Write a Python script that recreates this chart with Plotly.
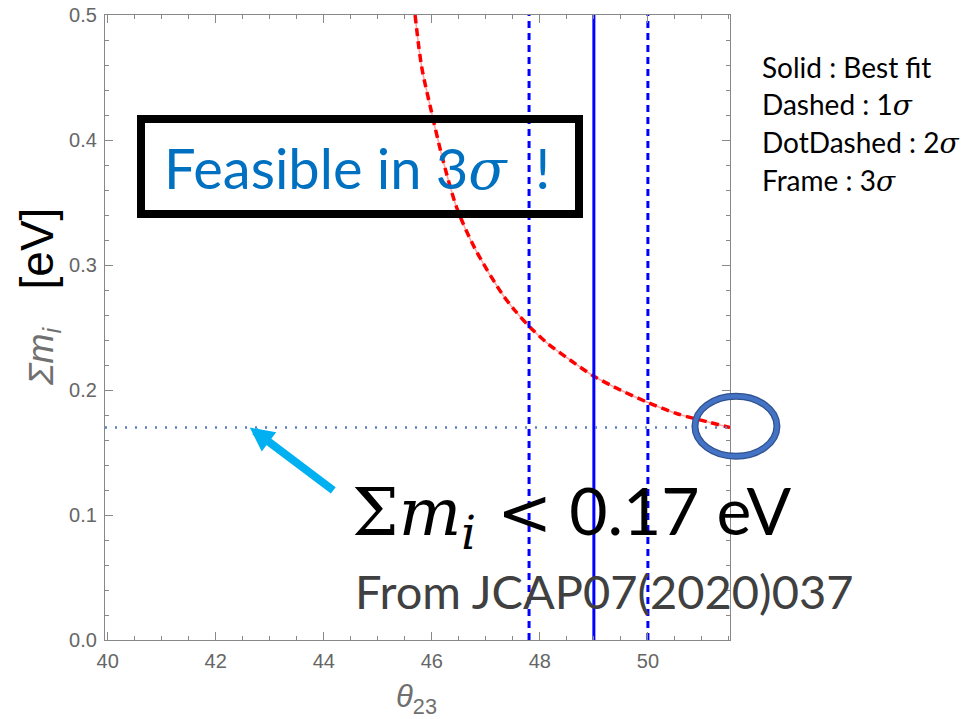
import plotly.graph_objects as go

# ---------------- data ----------------
theta23 = [45.69, 45.81, 45.97, 46.20, 46.46, 46.80, 47.30, 47.55, 47.80, 48.15, 48.56, 49.00, 49.49, 50.00, 50.54, 51.15, 51.52]
sum_mass = [0.500, 0.459, 0.427, 0.385, 0.346, 0.313, 0.277, 0.263, 0.251, 0.237, 0.224, 0.211, 0.200, 0.190, 0.181, 0.174, 0.170]
best_fit = 49.0
one_sigma = [47.8, 50.0]
mass_bound = 0.17
x_range = [39.95, 51.52]
y_range = [0.0, 0.5]
x_ticks = [40, 42, 44, 46, 48, 50]
y_ticks = [0.0, 0.1, 0.2, 0.3, 0.4, 0.5]
ring_center = (51.63, 0.171)
arrow_head = (42.63, 0.170)
legend_lines = ["Solid : Best fit", "Dashed : 1σ", "DotDashed : 2σ", "Frame : 3σ"]
feasible_text = "Feasible in 3σ&nbsp; !"
bound_text = "0.17 eV"
source_text = "From JCAP07(2020)037"

# ---------------- layout geometry ----------------
W, H = 969, 719
L, R, T, B = 105, 239, 15, 79
PW = W - L - R
PH = H - T - B

SERIF = "font-family:'DejaVu Serif'"


def P(px, py):
    """pixel position on page -> paper coordinates"""
    return (px - L) / PW, (H - B - py) / PH


def sig(s):
    return s.replace("σ", '<i><span style="%s">σ</span></i>' % SERIF)


fig = go.Figure()

# red curve: thin pale line with dashed red over it
fig.add_trace(go.Scatter(x=theta23, y=sum_mass, mode="lines", hoverinfo="skip",
                         line=dict(color="rgba(255,90,90,0.55)", width=1.5, shape="spline", smoothing=0.8)))
fig.add_trace(go.Scatter(x=theta23, y=sum_mass, mode="lines", hoverinfo="skip",
                         line=dict(color="#ff0000", width=3.5, dash="8px,5px", shape="spline", smoothing=0.8)))

# 1 sigma dashed lines and best fit
for v in one_sigma:
    fig.add_trace(go.Scatter(x=[v, v], y=y_range, mode="lines", hoverinfo="skip",
                             line=dict(color="#0000ff", width=3, dash="7px,5px")))
fig.add_trace(go.Scatter(x=[best_fit, best_fit], y=y_range, mode="lines", hoverinfo="skip",
                         line=dict(color="#0000ff", width=3)))

# cosmological bound, dotted
fig.add_trace(go.Scatter(x=x_range, y=[mass_bound, mass_bound], mode="lines", hoverinfo="skip",
                         line=dict(color="#5a7fc4", width=2.5, dash="2px,8px")))

axis_common = dict(showgrid=False, zeroline=False, showline=True, linecolor="#888888", linewidth=1.2,
                   mirror="allticks", ticks="inside", ticklen=8, tickwidth=1, tickcolor="#888888",
                   automargin=False, ticklabelstandoff=3,
                   tickfont=dict(family="Liberation Sans", size=20, color="#666666"))

fig.update_xaxes(range=x_range, tickvals=x_ticks,
                 minor=dict(dtick=0.5, tick0=40, ticks="inside", ticklen=4, tickcolor="#888888"),
                 **axis_common)
fig.update_yaxes(range=y_range, tickvals=y_ticks, tickformat=".1f",
                 minor=dict(dtick=0.02, tick0=0, ticks="inside", ticklen=4, tickcolor="#888888"),
                 **axis_common)

xspan = x_range[1] - x_range[0]
yspan = y_range[1] - y_range[0]

shapes = []
# highlighting ring around curve end
for col, wd in (("#2F528F", 7), ("#4472C4", 4.5)):
    shapes.append(dict(type="circle", xref="x domain", yref="y domain",
                       xsizemode="pixel", ysizemode="pixel",
                       xanchor=(ring_center[0] - x_range[0]) / xspan,
                       yanchor=(ring_center[1] - y_range[0]) / yspan,
                       x0=-41, x1=41, y0=-30, y1=30,
                       line=dict(color=col, width=wd)))
# black frame round "Feasible"
bx0, by0 = P(141, 214)
bx1, by1 = P(579, 119)
shapes.append(dict(type="rect", xref="paper", yref="paper", x0=bx0, y0=by0, x1=bx1, y1=by1,
                   line=dict(color="black", width=8)))

annotations = []
# Feasible text
ax_, ay_ = P(162, 168)
annotations.append(dict(xref="paper", yref="paper", x=ax_, y=ay_, xanchor="left", yanchor="middle",
                        text=sig(feasible_text), showarrow=False,
                        font=dict(family="Lato", size=56, color="#0070C0")))
# big bound text
ax_, ay_ = P(350, 515)
annotations.append(dict(xref="paper", yref="paper", x=ax_, y=ay_, xanchor="left", yanchor="middle",
                        text='<span style="%s">Σ<i>m<sub>i</sub></i> &lt;</span> ' % SERIF + bound_text,
                        showarrow=False, font=dict(family="Lato", size=66, color="black")))
# source
ax_, ay_ = P(353, 591)
annotations.append(dict(xref="paper", yref="paper", x=ax_, y=ay_, xanchor="left", yanchor="middle",
                        text=source_text, showarrow=False,
                        font=dict(family="Lato", size=47, color="#404040")))
# legend lines
for i, s in enumerate(legend_lines):
    ax_, ay_ = P(760, 67 + 37.7 * i)
    annotations.append(dict(xref="paper", yref="paper", x=ax_, y=ay_, xanchor="left", yanchor="middle",
                            text=sig(s), showarrow=False,
                            font=dict(family="Lato", size=28, color="black")))
# axis titles
ax_, ay_ = P(38, 297)
annotations.append(dict(xref="paper", yref="paper", x=ax_, y=ay_, xanchor="center", yanchor="middle",
                        textangle=-90, showarrow=False,
                        text='<span style="color:#707070;font-size:36px"><i>Σm<sub>i</sub></i></span>&nbsp;&nbsp;&nbsp;[eV]',
                        font=dict(family="Liberation Sans", size=46, color="black")))
ax_, ay_ = P(416, 699)
annotations.append(dict(xref="paper", yref="paper", x=ax_, y=ay_, xanchor="center", yanchor="middle",
                        text="<i>θ</i><sub>23</sub>", showarrow=False,
                        font=dict(family="Liberation Sans", size=31, color="#707070")))
# arrow
annotations.append(dict(x=arrow_head[0], y=arrow_head[1], xref="x", yref="y", text="",
                        showarrow=True, axref="pixel", ayref="pixel", ax=85, ay=64,
                        arrowhead=2, arrowsize=0.6, arrowwidth=8, arrowcolor="#00B0F0", standoff=0))

fig.update_layout(width=W, height=H, margin=dict(l=L, r=R, t=T, b=B, autoexpand=False),
                  paper_bgcolor="white", plot_bgcolor="white", showlegend=False,
                  shapes=shapes, annotations=annotations)

fig.write_html("out.html", config={"displayModeBar": False},
               post_script="document.body.style.margin='0px';")
